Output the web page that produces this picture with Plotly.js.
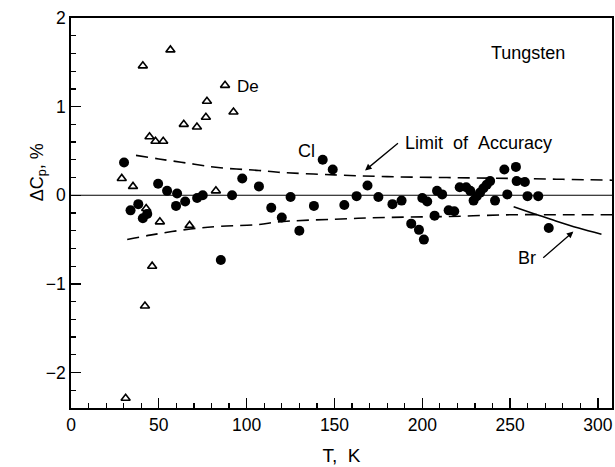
<!DOCTYPE html>
<html>
<head>
<meta charset="utf-8">
<script src="https://cdn.plot.ly/plotly-3.0.1.min.js"></script>
<style>html,body{margin:0;padding:0;background:#fff;}#chart{width:615px;height:467px;}</style>
</head>
<body>
<div id="chart"></div>
<script>
// Cl (filled circles)
var clT = [30.2, 33.9, 38.3, 40.9, 43.4, 49.6, 54.7, 59.8, 60.4, 65.0, 71.8, 75.0, 85.3, 91.7, 97.5, 107.0, 114.0, 120.0, 125.0, 130.0, 138.3, 143.3, 149.0, 155.6, 162.6, 168.8, 175.0, 183.0, 188.2, 193.7, 198.1, 200.0, 200.9, 202.8, 207.0, 208.4, 211.3, 215.0, 218.2, 221.3, 225.0, 227.3, 229.2, 231.0, 232.9, 234.8, 236.7, 238.6, 241.4, 246.7, 248.4, 253.3, 253.7, 258.4, 259.9, 266.0, 272.0];
var clV = [0.37, -0.17, -0.10, -0.26, -0.21, 0.13, 0.05, -0.12, 0.02, -0.07, -0.03, 0.00, -0.73, 0.00, 0.19, 0.10, -0.14, -0.25, -0.02, -0.40, -0.12, 0.40, 0.29, -0.11, -0.01, 0.11, -0.02, -0.10, -0.06, -0.32, -0.39, -0.03, -0.50, -0.07, -0.23, 0.05, 0.01, -0.17, -0.18, 0.09, 0.09, 0.05, -0.06, -0.01, 0.03, 0.08, 0.12, 0.16, -0.06, 0.29, 0.01, 0.32, 0.16, 0.15, -0.01, -0.01, -0.37];
// De (open triangles)
var deT = [28.9, 31.1, 35.3, 40.9, 42.1, 42.8, 44.7, 46.2, 48.1, 50.6, 52.5, 56.6, 64.2, 67.5, 71.7, 76.8, 77.4, 82.5, 87.7, 92.5];
var deV = [0.19, -2.29, 0.10, 1.46, -1.25, -0.15, 0.66, -0.80, 0.61, -0.30, 0.61, 1.64, 0.80, -0.34, 0.77, 0.88, 1.06, 0.05, 1.24, 0.94];
// Limit of accuracy (dashed)
var upT = [37, 50, 67, 85, 107, 118, 150, 180, 214, 250, 280, 308];
var upV = [0.45, 0.41, 0.36, 0.31, 0.28, 0.26, 0.23, 0.21, 0.20, 0.19, 0.18, 0.17];
var loT = [32, 45, 68, 85, 107, 118, 150, 180, 214, 250, 280, 308];
var loV = [-0.50, -0.45, -0.38, -0.35, -0.33, -0.30, -0.27, -0.25, -0.24, -0.22, -0.22, -0.22];
// Br (solid curve)
var brT = [252, 264, 276, 289, 302];
var brV = [-0.13, -0.21, -0.29, -0.37, -0.44];
// Zero reference
var zeroT = [0, 308];
var zeroV = [0, 0];

var xTicks = [0, 50, 100, 150, 200, 250, 300];
var yTicks = [-2, -1, 0, 1, 2];
var yTickText = ['\u22122', '\u22121', '0', '1', '2'];

var FONT = 'Liberation Sans, Arial, Helvetica, sans-serif';

var traces = [
  {x: zeroT, y: zeroV, mode: 'lines', line: {color: '#000', width: 1.2}, hoverinfo: 'skip'},
  {x: upT, y: upV, mode: 'lines', line: {color: '#000', width: 1.6, dash: '12px,7px', shape: 'spline'}},
  {x: loT, y: loV, mode: 'lines', line: {color: '#000', width: 1.6, dash: '12px,7px', shape: 'spline'}},
  {x: brT, y: brV, mode: 'lines', line: {color: '#000', width: 1.6, shape: 'spline'}},
  {x: clT, y: clV, mode: 'markers', marker: {symbol: 'circle', size: 10, color: '#000'}},
  {x: deT, y: deV, mode: 'markers', marker: {symbol: 'triangle-up-open', size: 8, color: '#000', line: {width: 1.6, color: '#000'}}}
];

var layout = {
  width: 615, height: 467,
  margin: {l: 71, r: 3, t: 18, b: 59},
  paper_bgcolor: '#fff', plot_bgcolor: '#fff',
  showlegend: false,
  font: {family: FONT, color: '#000', size: 17.5},
  xaxis: {
    range: [0, 308], tickvals: xTicks, ticks: 'inside', ticklen: 10, tickwidth: 1.3, tickcolor: '#000',
    minor: {dtick: 10, tick0: 0, ticks: 'inside', ticklen: 5, tickwidth: 1.2, tickcolor: '#000'},
    showgrid: false, zeroline: false, showline: true, linecolor: '#000', linewidth: 1.8, mirror: true,
    tickfont: {size: 17.5, family: FONT},
    title: {text: 'T,  K', font: {size: 19, family: FONT}, standoff: 15}
  },
  yaxis: {
    range: [-2.4, 2], tickvals: yTicks, ticktext: yTickText, ticks: 'inside', ticklen: 10, tickwidth: 1.3, tickcolor: '#000',
    minor: {dtick: 0.2, tick0: 0, ticks: 'inside', ticklen: 5, tickwidth: 1.2, tickcolor: '#000'},
    showgrid: false, zeroline: false, showline: true, linecolor: '#000', linewidth: 1.8, mirror: true,
    tickfont: {size: 17.5, family: FONT}
  },
  annotations: [
    {xref: 'paper', yref: 'paper', x: -0.085, y: 0.603, text: '\u0394C<sub>p</sub>, %', textangle: -90, showarrow: false, font: {size: 18, family: FONT}},
    {x: 260, y: 1.60, text: 'Tungsten', showarrow: false, font: {size: 18, family: FONT}},
    {x: 93.6, y: 1.23, text: 'De', xanchor: 'left', showarrow: false, font: {size: 17, family: FONT}},
    {x: 134.3, y: 0.50, text: 'Cl', showarrow: false, font: {size: 18, family: FONT}},
    {x: 189, y: 0.59, text: 'Limit\u00a0\u00a0of\u00a0\u00a0Accuracy', xanchor: 'left', showarrow: false, font: {size: 18, family: FONT}},
    {x: 259.7, y: -0.71, text: 'Br', showarrow: false, font: {size: 18, family: FONT}},
    {x: 167.4, y: 0.28, ax: 187, ay: 0.60, axref: 'x', ayref: 'y', text: '', showarrow: true, arrowhead: 2, arrowsize: 1, arrowwidth: 1.3, arrowcolor: '#000'},
    {x: 286, y: -0.41, ax: 268, ay: -0.72, axref: 'x', ayref: 'y', text: '', showarrow: true, arrowhead: 2, arrowsize: 1, arrowwidth: 1.3, arrowcolor: '#000'}
  ]
};

Plotly.newPlot('chart', traces, layout, {displayModeBar: false, staticPlot: true});
</script>
</body>
</html>
